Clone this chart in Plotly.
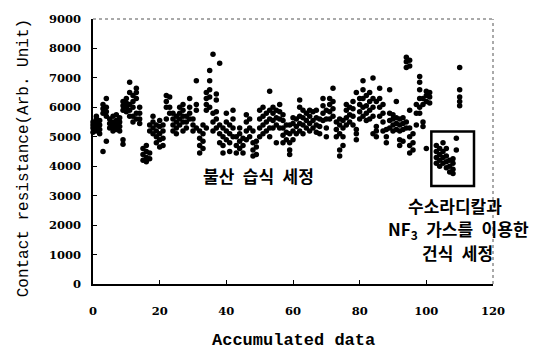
import plotly.graph_objects as go

# Accumulated data index and contact-resistance readings (Arb. Unit) for each index
x_index = list(range(0, 102)) + [103, 104, 105, 106, 107, 108, 109, 110]
y_groups = [
    [5150, 5300, 5400, 5500],            # 0
    [5200, 5350, 5450, 5600, 5700],      # 1
    [5100, 5250, 5400, 5550],            # 2
    [5800, 5950, 6100, 4500],            # 3
    [5700, 5850, 6000, 6300, 4850],      # 4
    [5300, 5450, 5600],                  # 5
    [5200, 5350, 5500, 5700],            # 6
    [5250, 5400, 5550, 5750],            # 7
    [5200, 5350, 5500, 5650],            # 8
    [5900, 6050, 6200, 4750, 4900],      # 9
    [5850, 6000, 6150, 6300],            # 10
    [5900, 6100, 6500, 6850, 5700],      # 11
    [6000, 6200, 6400, 5500, 5700],      # 12
    [6300, 6500, 6650, 5600, 5800],      # 13
    [5450, 5600, 5800, 6000],            # 14
    [4200, 4400, 4600],                  # 15
    [4150, 4300, 4500, 4700],            # 16
    [4250, 4450, 5200, 5400],            # 17
    [5100, 5300, 5500, 5700],            # 18
    [4800, 5000, 5200, 5400],            # 19
    [4650, 4900, 5100, 5350, 5550],      # 20
    [4700, 4950, 5200, 5400],            # 21
    [6000, 6200, 6400, 5600],            # 22
    [5800, 6000, 6350],                  # 23
    [5200, 5400, 5600, 5800],            # 24
    [5300, 5500, 5700, 5100],            # 25
    [5400, 5600, 5800, 6000],            # 26
    [5200, 5500, 5700, 5900, 6100],      # 27
    [5300, 5500, 5700],                  # 28
    [5600, 5800, 6000, 6300],            # 29
    [5200, 5400, 5600],                  # 30
    [5900, 6100, 6900, 5300],            # 31
    [4450, 4700, 4950, 5200],            # 32
    [4600, 4850, 5100, 5400],            # 33
    [5900, 6100, 6300, 6500, 5300],      # 34
    [6000, 6350, 6600, 6900, 7250],      # 35
    [5200, 5500, 5800, 7800],            # 36
    [5300, 5600, 5850, 6250, 6450],      # 37
    [4800, 5100, 5400, 7500],            # 38
    [4450, 4700, 5000, 5300],            # 39
    [4900, 5200, 5500, 5800],            # 40
    [4500, 4800, 5100, 5400],            # 41
    [5000, 5300, 5600, 5900],            # 42
    [4450, 4700, 5000],                  # 43
    [4600, 4850, 5100, 5300],            # 44
    [4450, 4700, 4950],                  # 45
    [4900, 5200, 5500, 5750],            # 46
    [5000, 5300, 5600],                  # 47
    [4350, 4550, 4800, 5200],            # 48
    [4400, 4650, 4850],                  # 49
    [5000, 5300, 5600, 5900],            # 50
    [5100, 5400, 5700, 6000],            # 51
    [5200, 5500, 5800],                  # 52
    [5000, 5300, 5600, 5900, 6550],      # 53
    [5300, 5550, 5800, 6000],            # 54
    [5400, 5650, 5900, 4800],            # 55
    [5300, 5600, 5850, 6100],            # 56
    [4800, 5050, 5300, 5550, 5750],      # 57
    [4900, 5150, 5400],                  # 58
    [4400, 4550, 4800, 5100, 5400],      # 59
    [4900, 5200, 5450, 5650],            # 60
    [5100, 5350, 5600],                  # 61
    [5200, 5450, 5700, 6000, 6250],      # 62
    [5100, 5400, 5650, 5900],            # 63
    [5300, 5550, 5800],                  # 64
    [5200, 5450, 5700, 5900],            # 65
    [5300, 5550, 5850],                  # 66
    [5150, 5400, 5650, 5900],            # 67
    [5100, 5350, 5600],                  # 68
    [5550, 5800, 6050, 6300],            # 69
    [5000, 5300, 5600, 5900],            # 70
    [5600, 5850, 6100, 6300],            # 71
    [5700, 5950, 6200, 6650],            # 72
    [5000, 5250, 5500],                  # 73
    [4350, 4550, 5100, 5400, 5600],      # 74
    [4700, 5000, 5300, 5550],            # 75
    [5400, 5650, 5900, 6100],            # 76
    [5500, 5750, 6000],                  # 77
    [5400, 5700, 5950, 6200],            # 78
    [4900, 5100, 5250, 6500],            # 79
    [5600, 5850, 6100, 6300],            # 80
    [5700, 6000, 6300, 6600, 6900],      # 81
    [5550, 5800, 6050, 6400],            # 82
    [5600, 5900, 6200, 6500],            # 83
    [5700, 6000, 6300, 7000, 5100],      # 84
    [5000, 5200, 5350, 6200],            # 85
    [5700, 6000, 6300, 6650],            # 86
    [5200, 5500, 5800, 6100],            # 87
    [4800, 5000, 5250],                  # 88
    [5300, 5550, 5800, 6600],            # 89
    [5200, 5400, 5600, 5750],            # 90
    [5250, 5450, 5650, 6200],            # 91
    [5200, 5400, 5600, 4700, 4900],      # 92
    [5250, 5450, 5650, 4850],            # 93
    [7350, 7550, 7700, 5300, 5500],      # 94
    [7400, 7600, 4450, 4700, 5000, 5300, 5900],  # 95
    [4550, 4800, 5100],                  # 96
    [5800, 6100, 5400],                  # 97
    [6600, 6850, 7050, 5800, 6000, 6300],  # 98
    [5350, 5500, 6100, 6300],            # 99
    [6200, 6400, 6550, 4600],            # 100
    [6150, 6350, 6500],                  # 101
    [4100, 4300, 4500, 4700],            # 103
    [4000, 4200, 4400, 4600],            # 104
    [4100, 4300, 4500, 4800],            # 105
    [3950, 4150, 4350, 4600],            # 106
    [3800, 4000, 4200],                  # 107
    [3750, 3900, 4100, 4250],            # 108
    [4550, 4950],                        # 109
    [7350, 6600, 6050, 6200, 6350],      # 110
]

x_ticks = [0, 20, 40, 60, 80, 100, 120]
y_ticks = [0, 1000, 2000, 3000, 4000, 5000, 6000, 7000, 8000, 9000]

# dry-clean region box (data coordinates)
box_x = [101.5, 114.3]
box_y = [3330, 5180]

xs, ys = [], []
for xi, grp in zip(x_index, y_groups):
    for v in grp:
        xs.append(xi)
        ys.append(v)

fig = go.Figure()
fig.add_trace(go.Scatter(
    x=xs, y=ys, mode="markers",
    marker=dict(color="black", size=5.5, symbol="circle", line=dict(width=0)),
    cliponaxis=False, showlegend=False, hoverinfo="skip",
))

tickfont = dict(family="DejaVu Serif", size=11.5, color="black", weight="bold")

fig.update_layout(
    width=547, height=353,
    margin=dict(l=93, r=54, t=12, b=69),
    paper_bgcolor="white", plot_bgcolor="white",
    xaxis=dict(
        range=[0, 120], tickvals=x_ticks, ticktext=[str(t) for t in x_ticks],
        showline=True, linecolor="black", linewidth=1.5,
        ticks="inside", ticklen=4, tickcolor="black", tickwidth=1,
        showgrid=False, zeroline=False, tickfont=tickfont,
        ticklabelstandoff=15,
    ),
    yaxis=dict(
        range=[0, 9000], tickvals=y_ticks, ticktext=[str(t) for t in y_ticks],
        showline=True, linecolor="black", linewidth=1.5,
        ticks="inside", ticklen=4, tickcolor="black", tickwidth=1,
        showgrid=False, zeroline=False, tickfont=tickfont,
        ticklabelstandoff=8,
    ),
    shapes=[
        dict(type="line", xref="paper", yref="paper", x0=0, x1=1, y0=1, y1=1,
             line=dict(color="#555555", width=1, dash="dot")),
        dict(type="line", xref="paper", yref="paper", x0=1, x1=1, y0=0, y1=1,
             line=dict(color="#555555", width=1, dash="dot")),
        dict(type="rect", xref="x", yref="y", x0=box_x[0], x1=box_x[1],
             y0=box_y[0], y1=box_y[1], line=dict(color="black", width=2.5)),
    ],
)

kr = dict(family="Noto Sans CJK KR", size=17, color="black", weight="bold")
annos = [
    dict(text="불산\u2002습식\u2002세정", x=258, y=173),
    dict(text="수소라디칼과", x=455, y=203),
    dict(text="NF<sub>3</sub>\u2002가스를\u2002이용한", x=458, y=228),
    dict(text="건식\u2002세정", x=457, y=252),
]
for a in annos:
    fig.add_annotation(
        text=a["text"], xref="paper", yref="paper",
        x=(a["x"] - 93) / 400, y=(284 - a["y"]) / 272,
        xanchor="center", yanchor="middle", showarrow=False, font=kr,
    )

# axis titles
fig.add_annotation(
    text="Contact resistance(Arb. Unit)", xref="paper", yref="paper",
    x=(24 - 93) / 400, y=(284 - 155) / 272, xanchor="center", yanchor="middle",
    textangle=-90, showarrow=False,
    font=dict(family="Liberation Mono", size=16, color="black"),
)
fig.add_annotation(
    text="Accumulated data", xref="paper", yref="paper",
    x=0.5, y=(284 - 342) / 272, xanchor="center", yanchor="middle",
    showarrow=False,
    font=dict(family="Liberation Mono", size=17, color="black", weight="bold"),
)

fig.write_html("out.html")
